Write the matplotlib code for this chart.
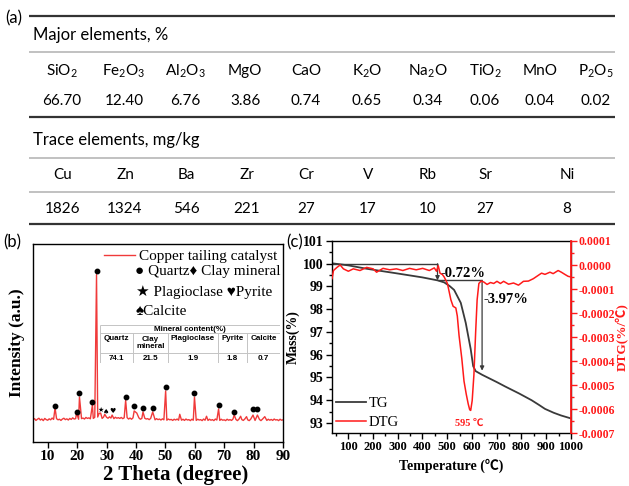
import numpy as np
import matplotlib
matplotlib.use("Agg")
import matplotlib.pyplot as plt
from matplotlib.ticker import MultipleLocator, FixedLocator, FuncFormatter
from matplotlib.font_manager import FontProperties

plt.rcParams['mathtext.fontset'] = 'custom'
plt.rcParams['mathtext.rm'] = 'Lato'
plt.rcParams['axes.unicode_minus'] = False

# ---- (a) chemical composition ----
major_names = ['SiO$_2$', 'Fe$_2$O$_3$', 'Al$_2$O$_3$', 'MgO', 'CaO', 'K$_2$O',
               'Na$_2$O', 'TiO$_2$', 'MnO', 'P$_2$O$_5$']
major_values = ['66.70', '12.40', '6.76', '3.86', '0.74', '0.65', '0.34', '0.06', '0.04', '0.02']
trace_names = ['Cu', 'Zn', 'Ba', 'Zr', 'Cr', 'V', 'Rb', 'Sr', 'Ni']
trace_values = ['1826', '1324', '546', '221', '27', '17', '10', '27', '8']

# ---- (b) XRD ----
# background intensity read every 0.5 deg from 5 to 90
xrd_background = [
    11.2, 11.8, 10.9, 11.5, 12.0, 11.1, 11.6, 10.8, 11.9, 11.3,
    11.0, 11.7, 11.2, 12.1, 11.4, 11.0, 11.8, 11.2, 11.5, 10.9,
    11.6, 12.0, 11.3, 11.7, 11.1, 11.9, 11.4, 12.2, 11.6, 11.8,
    12.0, 11.5, 12.3, 11.8, 12.1, 11.6, 12.4, 11.9, 12.2, 11.7,
    12.3, 11.9, 12.5, 12.0, 12.6, 12.1, 12.4, 11.9, 12.6, 12.2,
    12.5, 12.0, 12.7, 12.1, 12.4, 11.8, 12.5, 12.0, 12.3, 11.9,
    12.4, 11.8, 12.2, 11.7, 12.3, 11.6, 12.1, 11.5, 12.2, 11.7,
    12.0, 11.6, 12.2, 11.5, 11.9, 11.4, 12.0, 11.6, 11.8, 11.3,
    11.9, 11.4, 11.7, 11.2, 11.8, 11.3, 11.6, 11.1, 11.7, 11.2,
    11.5, 11.0, 11.6, 11.2, 11.4, 10.9, 11.5, 11.1, 11.6, 11.0,
    11.4, 11.0, 11.5, 10.9, 11.6, 11.1, 11.3, 10.8, 11.5, 11.0,
    11.4, 10.9, 11.5, 11.1, 11.3, 10.8, 11.6, 11.0, 11.4, 10.9,
    11.5, 11.0, 11.3, 10.8, 11.6, 11.1, 11.4, 10.9, 11.5, 11.0,
    11.2, 10.8, 11.5, 11.0, 11.3, 10.9, 11.6, 11.1, 11.4, 10.8,
    11.5, 11.0, 11.3, 10.9, 11.6, 11.1, 11.2, 10.8, 11.5, 11.0,
    11.3, 10.9, 11.6, 11.0, 11.4, 10.8, 11.5, 11.1, 11.3, 10.9,
    11.5, 11.0, 11.4, 10.9, 11.6, 11.1, 11.3, 10.8, 11.5, 11.0,
    11.2]
peak_pos = [12.5, 19.8, 20.8, 25.2, 26.6, 27.5, 28.0, 29.4, 31.9, 36.5, 39.4, 40.3,
            42.4, 45.7, 50.1, 54.9, 59.9, 64.0, 68.1, 73.4, 75.6, 77.6, 79.8, 81.3, 83.8]
peak_height = [17.2, 14.6, 22.7, 18.7, 84.5, 14.5, 14.6, 14.0, 13.6, 21.0, 15.7, 14.6,
               15.2, 15.2, 25.8, 14.0, 22.7, 13.0, 16.7, 13.6, 13.0, 12.8, 13.6, 13.6, 12.8]
quartz_pos = [12.5, 19.8, 20.8, 25.2, 26.6, 36.5, 39.4, 42.4, 45.7, 50.1, 59.9, 68.1, 73.4, 79.8, 81.3]
quartz_mark = [18.4, 15.3, 24.8, 20.3, 86.3, 22.8, 18.2, 17.3, 17.3, 27.9, 24.8, 18.8, 15.3, 16.8, 16.8]
plagioclase_pos, plagioclase_mark = [27.9], [16.4]
calcite_pos, calcite_mark = [29.8], [15.2]
pyrite_pos, pyrite_mark = [32.0], [15.8]

mineral_names = ['Quartz', 'Clay\nmineral', 'Plagioclase', 'Pyrite', 'Calcite']
mineral_values = ['74.1', '21.5', '1.9', '1.8', '0.7']

# ---- (c) TG / DTG ----
tg_temp = [35, 100, 175, 295, 400, 461, 488, 510, 528, 555, 575, 595, 605, 615, 641,
           700, 735, 790, 841, 870, 895, 930, 960, 1000]
tg_mass = [100.02, 99.93, 99.78, 99.58, 99.40, 99.27, 99.18, 99.02, 98.85, 98.28, 97.40,
           96.25, 95.50, 95.28, 95.12, 94.80, 94.60, 94.30, 94.00, 93.80, 93.62, 93.45,
           93.33, 93.20]
# DTG in units of 1e-4 %/C
dtg_temp = [35, 41, 55, 68, 81, 101, 121, 148, 175, 201, 215, 241, 268, 295, 321, 348,
            375, 401, 428, 448, 457, 464, 471, 481, 488, 501, 515, 524, 535, 541, 548,
            559, 568, 577, 585, 591, 595, 601, 608, 615, 621, 628, 637, 648, 661, 675,
            688, 701, 715, 728, 748, 768, 788, 808, 828, 848, 868, 881, 895, 915, 928,
            948, 961, 975, 988, 1000]
dtg_value = [-0.57, -0.23, -0.10, 0.0, -0.16, -0.26, -0.16, -0.23, -0.10, -0.16, -0.30,
             -0.14, -0.20, -0.16, -0.23, -0.14, -0.20, -0.14, -0.23, -0.12, -0.26, -0.03,
             -0.34, -0.40, -0.50, -0.77, -1.45, -1.72, -1.79, -2.13, -2.94, -3.89, -4.84,
             -5.38, -5.79, -6.03, -6.06, -5.65, -4.57, -2.80, -1.45, -0.77, -0.67, -0.71,
             -0.81, -0.73, -0.77, -0.68, -0.77, -0.68, -0.80, -0.75, -0.84, -0.68, -0.67,
             -0.57, -0.43, -0.34, -0.39, -0.30, -0.36, -0.23, -0.30, -0.39, -0.47, -0.50]
step_temp = [461, 641]
step_mass = [100.0, 99.27, 95.30]
step_label = ['-0.72%', '-3.97%']
peak_temp = 595

W, H = 629, 486
fig = plt.figure(figsize=(6.29, 4.86), dpi=100)


def px_axes(l, t, r, b):
    return fig.add_axes([l / W, 1 - b / H, (r - l) / W, (b - t) / H])


serif = 'Liberation Serif'
serif_sym = ['Liberation Serif', 'DejaVu Sans']
serif_c = ['Liberation Serif', 'Noto Sans CJK SC']

# ---------------- (a) table ----------------
tab = px_axes(0, 0, W, H)
tab.set_xlim(0, W)
tab.set_ylim(H, 0)
tab.axis('off')
line_l, line_r = 29, 615
tab.hlines([16, 117, 224], line_l, line_r, color='#333333', lw=1.6)
tab.hlines([52, 158, 192], line_l, line_r, color='#b0b0b0', lw=1.1)
tab.text(5, 18, '(a)', family='Lato', fontsize=12, va='center')
tab.text(33, 35, 'Major elements, %', family='Lato', fontsize=12, va='center')
tab.text(33, 140, 'Trace elements, mg/kg', family='Lato', fontsize=12, va='center')
major_x = [62, 124, 185, 245, 306, 367, 428, 485, 540, 596]
trace_x = [63, 125, 186, 247, 306, 368, 428, 485, 567]
for x, n, v in zip(major_x, major_names, major_values):
    tab.text(x, 71, n, family='Lato', fontsize=11, ha='center', va='center')
    tab.text(x, 101, v, family='Lato', fontsize=11, ha='center', va='center')
for x, n, v in zip(trace_x, trace_names, trace_values):
    tab.text(x, 175, n, family='Lato', fontsize=11, ha='center', va='center')
    tab.text(x, 209, v, family='Lato', fontsize=11, ha='center', va='center')
tab.text(3, 242, '(b)', family='Lato', fontsize=12, va='center')
tab.text(286, 242, '(c)', family='Lato', fontsize=12, va='center')

# ---------------- (b) XRD ----------------
ax1 = px_axes(33, 244, 283, 442)
grid = np.arange(5, 90.25, 0.5)
bg = np.array(xrd_background)
pp = np.array(peak_pos)
keep = np.all(np.abs(grid[:, None] - pp[None, :]) > 0.3, axis=1)
xx = np.concatenate([grid[keep], pp])
yy = np.concatenate([bg[keep], np.array(peak_height)])
order = np.argsort(xx)
xrd_line, = ax1.plot(xx[order], yy[order], color='#f03a3a', lw=1.0)
ax1.plot(quartz_pos, quartz_mark, 'o', color='black', ms=3.2, ls='none')
for x, y in zip(plagioclase_pos, plagioclase_mark):
    ax1.text(x, y, '★', family='DejaVu Sans', fontsize=5, ha='center', va='center')
for x, y in zip(calcite_pos, calcite_mark):
    ax1.text(x, y, '♠', family='DejaVu Sans', fontsize=5, ha='center', va='center')
for x, y in zip(pyrite_pos, pyrite_mark):
    ax1.text(x, y, '♥', family='DejaVu Sans', fontsize=5, ha='center', va='center')
ax1.set_xlim(5, 90)
ax1.set_ylim(0, 100)
ax1.set_xticks(range(10, 91, 10))
ax1.set_yticks([])
ax1.tick_params(axis='x', direction='out', length=4, width=1, pad=2)
for lab in ax1.get_xticklabels():
    lab.set_fontproperties(FontProperties(family=serif, weight='bold', size=11))
for s in ax1.spines.values():
    s.set_linewidth(1.0)
ax1.set_xlabel('2 Theta (degree)', family=serif, weight='bold', fontsize=15)
ax1.xaxis.set_label_coords(0.57, -0.115)
ax1.set_ylabel('Intensity (a.u.)', family=serif, weight='bold', fontsize=12.5, labelpad=6)
ax1.legend([xrd_line], ['Copper tailing catalyst'], loc='upper right', frameon=False,
           prop=FontProperties(family=serif, size=11), handlelength=2.0,
           handletextpad=0.3, borderaxespad=0.15, borderpad=0.2)
ax1.text(0.408, 0.859, '● Quartz♦ Clay mineral', transform=ax1.transAxes,
         family=serif_sym, fontsize=11, va='center')
ax1.text(0.412, 0.758, '★ Plagioclase ♥Pyrite', transform=ax1.transAxes,
         family=serif_sym, fontsize=11, va='center')
ax1.text(0.412, 0.657, '♠Calcite', transform=ax1.transAxes,
         family=serif_sym, fontsize=11, va='center')

# inset mineral table
tb = px_axes(100, 325, 280, 363)
tb.set_xlim(0, 180)
tb.set_ylim(38, 0)
tb.axis('off')
edges = [0, 33, 68, 118, 147, 180]
gc = '#c4c4c4'
tb.hlines([0, 8, 28, 38], 0, 180, color=gc, lw=0.7)
tb.vlines([0, 180], 0, 38, color=gc, lw=0.7)
tb.vlines(edges[1:-1], 8, 38, color=gc, lw=0.7)
tb.text(90, 4.2, 'Mineral content(%)', family='Liberation Sans', weight='bold',
        fontsize=5.8, ha='center', va='center')
for i, (n, v) in enumerate(zip(mineral_names, mineral_values)):
    cx = (edges[i] + edges[i + 1]) / 2
    tb.text(cx, 14 if '\n' not in n else 18, n, family='Liberation Sans', weight='bold',
            fontsize=5.8, ha='center', va='center', linespacing=1.0)
    tb.text(cx, 33, v, family='Liberation Sans', weight='bold', fontsize=5.8,
            ha='center', va='center')

# ---------------- (c) TG / DTG ----------------
ax2 = px_axes(332, 241, 571, 433)
ax3 = ax2.twinx()
tg_line, = ax2.plot(tg_temp, tg_mass, color='#3a3a3a', lw=1.3)
dtg_line, = ax3.plot(dtg_temp, dtg_value, color='#ff1a1a', lw=1.1)

ax2.hlines(step_mass[0], tg_temp[0], step_temp[0], color='#3a3a3a', lw=1.0)
ax2.hlines(step_mass[1], step_temp[0], step_temp[1], color='#3a3a3a', lw=1.0)
for t, y0, y1 in zip(step_temp, step_mass[:-1], step_mass[1:]):
    ax2.annotate('', xy=(t, y1), xytext=(t, y0),
                 arrowprops=dict(arrowstyle='-|>', color='#3a3a3a', lw=0.9,
                                 mutation_scale=6, shrinkA=0, shrinkB=0))
ax2.text(475, 99.58, step_label[0], family=serif, weight='bold', fontsize=10.5,
         va='center', ha='left')
ax2.text(648, 98.42, step_label[1], family=serif, weight='bold', fontsize=10.5,
         va='center', ha='left')
ax2.text(peak_temp - 7, 93.0, f'{peak_temp} ℃', family=serif_c, weight='bold',
         fontsize=7.5, color='#ff1a1a', ha='center', va='center')

ax2.set_xlim(35, 1000)
ax2.set_ylim(92.56, 101)
ax3.set_ylim(-7, 1)
ax2.set_xticks(range(100, 1001, 100))
ax2.xaxis.set_minor_locator(MultipleLocator(50))
ax2.set_yticks(range(93, 102))
ax2.yaxis.set_minor_locator(MultipleLocator(0.5))
ax3.yaxis.set_major_locator(FixedLocator([1, 0, -1, -2, -3, -4, -5, -6, -7]))
ax3.yaxis.set_minor_locator(MultipleLocator(0.5))
ax3.yaxis.set_major_formatter(FuncFormatter(lambda v, p: f'{v * 1e-4:.4f}'.replace('-0.0000', '0.0000')))

ax2.tick_params(which='both', direction='out', width=1, pad=2)
ax2.tick_params(which='major', length=4)
ax2.tick_params(which='minor', length=2)
ax3.tick_params(which='both', direction='out', width=1, colors='#ff1a1a', pad=1.5)
ax3.tick_params(which='major', length=4)
ax3.tick_params(which='minor', length=2)
for lab in ax2.get_xticklabels():
    lab.set_fontproperties(FontProperties(family=serif, weight='bold', size=9))
for lab in ax2.get_yticklabels():
    lab.set_fontproperties(FontProperties(family=serif, weight='bold', size=10))
for lab in ax3.get_yticklabels():
    lab.set_fontproperties(FontProperties(family=serif, weight='bold', size=8.5))
for s in ax2.spines.values():
    s.set_linewidth(1.0)
ax3.spines['right'].set_color('#ff1a1a')
ax3.spines['right'].set_linewidth(1.3)
ax3.spines['left'].set_visible(False)
ax3.spines['top'].set_visible(False)
ax3.spines['bottom'].set_visible(False)

ax2.set_xlabel('Temperature (℃)', family=serif_c, weight='bold', fontsize=10, labelpad=4)
ax2.set_ylabel('Mass(%)', family=serif, weight='bold', fontsize=10, labelpad=2)
ax3.set_ylabel('DTG(%/℃)', family=serif_c, weight='bold', fontsize=9.5,
               color='#ff1a1a', labelpad=0.5)
ax3.legend([tg_line, dtg_line], ['TG', 'DTG'], loc='lower left', frameon=False,
           prop=FontProperties(family=serif, size=10.5), handlelength=2.0,
           handletextpad=0.2, borderaxespad=0.1, borderpad=0.2, labelspacing=0.35)

fig.savefig('out.png', dpi=100)
